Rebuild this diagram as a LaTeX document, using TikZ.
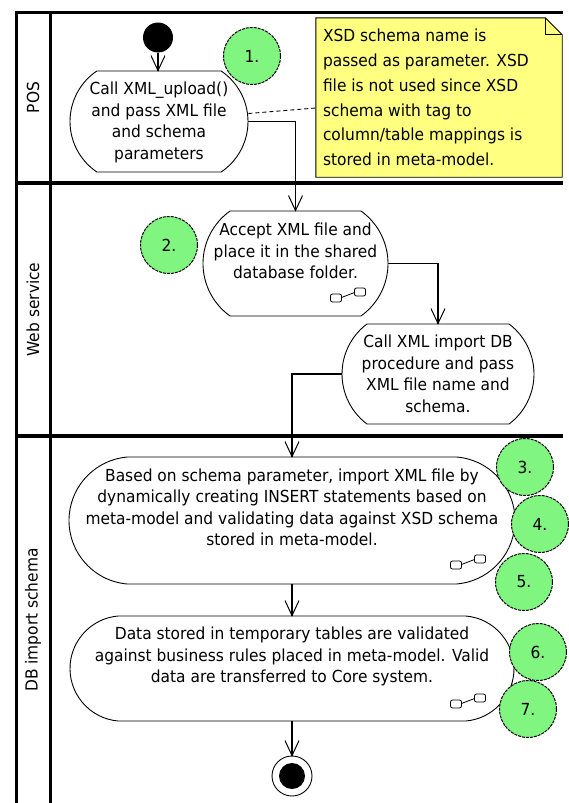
\documentclass[tikz,border=0pt]{standalone}
\usepackage{fontspec}
\setmainfont[FakeStretch=0.93]{DejaVu Sans}
\usetikzlibrary{shapes.misc,arrows.meta,calc,decorations.markings}
\definecolor{numgreen}{RGB}{128,245,128}
\definecolor{noteyellow}{RGB}{255,255,128}
\newcommand\subicon[1]{%
  \begin{scope}[shift={#1}]
    \draw[line width=0.8pt, rounded corners=2pt, fill=white] (-17.5,-1) rectangle (-6.5,7);
    \draw[line width=0.8pt, rounded corners=2pt, fill=white] (6.5,-7) rectangle (17.5,1);
    \draw[line width=0.8pt] (-6.5,2.5) -- (6.5,-2.5);
  \end{scope}}
\begin{document}
\begin{tikzpicture}[x=1pt,y=-1pt,
  every node/.style={font=\fontsize{16.6}{21.5}\selectfont},
  lanel/.style={line width=3pt},
  sepl/.style={line width=4pt},
  lanelabel/.style={rotate=90, inner sep=0pt},
  act/.style={draw, line width=0.9pt, rounded rectangle, inner sep=0pt, fill=white},
  txt/.style={align=center, inner sep=0pt},
  num/.style={circle, minimum size=57pt, inner sep=0pt, fill=numgreen, draw, line width=1pt, dash pattern=on 3pt off 1pt},
  flow/.style={line width=1.1pt, postaction={decorate},
    decoration={markings, mark=at position 1 with {\draw[line width=1pt, solid, line join=miter] (-15pt,7pt) -- (0pt,0pt) -- (-15pt,-7pt);}}},
  startst/.style={circle, fill=black, minimum size=30pt, inner sep=0pt},
  finalst/.style={circle, draw, line width=0.9pt, minimum size=40pt, inner sep=0pt},
  notebox/.style={rectangle, minimum width=246pt, minimum height=159pt, inner sep=0pt}
]
\useasboundingbox (0,0) rectangle (568,803);
% swimlane frame
\draw[lanel] (16,12) -- (16,803);
\draw[lanel] (50,12) -- (50,803);
\draw[lanel] (14.5,12) -- (563,12);
\draw[sepl] (16,183) -- (563,183);
\draw[sepl] (16,436) -- (563,436);
\node[lanelabel] (lpos) at (33,97.5) {POS};
\node[lanelabel] (lweb) at (33,309.5) {Web service};
\node[lanelabel] (ldb) at (33,620) {DB import schema};

% note
\node[notebox] (note) at (439,97.5) {};
\draw[line width=0.9pt, fill=noteyellow] (note.south west) -- (note.north west) -- ([xshift=-17pt]note.north east) -- ([yshift=-17pt]note.north east) -- (note.south east) -- cycle;
\draw[line width=0.9pt] ([xshift=-17pt]note.north east) |- ([yshift=-17pt]note.north east);
\node[anchor=west, align=left, inner sep=0pt, font=\fontsize{16.6}{24.7}\selectfont] (notetext) at ([xshift=7pt]note.west) {XSD schema name is\\passed as parameter. XSD\\file is not used since XSD\\schema with tag to\\column/table mappings is\\stored in meta-model.};

% activities
\node[startst] (start) at (158,37.5) {};
\node[act, minimum width=178pt, minimum height=101pt, rounded rectangle arc length=112] (a1) at (159,121.5) {};
\node[txt] (a1t) at (159,122.5) {Call XML\_upload()\\and pass XML file\\and schema\\parameters};

\node[act, minimum width=185pt, minimum height=105pt, rounded rectangle arc length=109] (a2) at (295.5,263.5) {};
\node[txt] (a2t) at (295.5,251) {Accept XML file and\\place it in the shared\\database folder.};
\subicon{(348,295)}

\node[act, minimum width=192pt, minimum height=100pt, rounded rectangle arc length=106] (a3) at (438,374) {};
\node[txt] (a3t) at (438,374) {Call XML import DB\\procedure and pass\\XML file name and\\schema.};

\node[act, minimum width=446pt, minimum height=127pt, rounded rectangle arc length=170] (a4) at (292,520.5) {};
\node[txt] (a4t) at (292,507.5) {Based on schema parameter, import XML file by\\dynamically creating INSERT statements based on\\meta-model and validating data against XSD schema\\stored in meta-model.};
\subicon{(468,562)}

\node[act, minimum width=444pt, minimum height=105pt, rounded rectangle arc length=170] (a5) at (292,668.5) {};
\node[txt] (a5t) at (292,656.5) {Data stored in temporary tables are validated\\against business rules placed in meta-model. Valid\\data are transferred to Core system.};
\subicon{(468,701)}

\node[finalst] (final) at (292,776) {};
\node[circle, fill=black, minimum size=26pt, inner sep=0pt] (finaldot) at (final.center) {};

% connectors
\draw[flow] (start) -- (start |- a1.north);
\draw[line width=0.9pt, dash pattern=on 4pt off 3pt] ([yshift=8pt]a1.east) -- ([yshift=-10.5pt]note.west);
\draw[flow] (a1.east) -| (a2.north);
\draw[flow] (a2.east) -| (a3.north);
\draw[flow] (a3.west) -| (a4.north);
\draw[flow] (a4.south) -- (a5.north);
\draw[flow] (a5.south) -- (final.north);

% step numbers
\node[num] (n1) at (252,56) {1.};
\node[num] (n2) at (169,245) {2.};
\node[num] (n3) at (525,467) {3.};
\node[num] (n4) at (540,524) {4.};
\node[num] (n5) at (524,582) {5.};
\node[num] (n6) at (538,652) {6.};
\node[num] (n7) at (528,709) {7.};
\end{tikzpicture}
\end{document}
